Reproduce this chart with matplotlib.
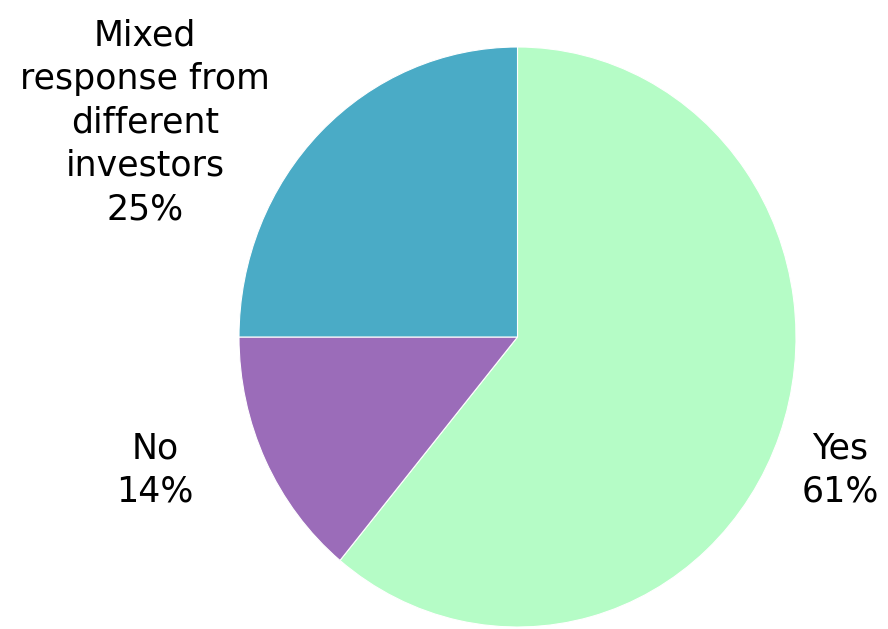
import matplotlib
matplotlib.use("Agg")
import matplotlib.pyplot as plt

categories = ["Yes", "No", "Mixed\nresponse from\ndifferent\ninvestors"]
values = [61, 14, 25]
colors = ["#b5fcc6", "#9b6cb9", "#4aabc6"]
label_pos = [(1.158, -0.459), (-1.302, -0.459), (-1.338, 0.741)]

fig = plt.figure(figsize=(8.88, 6.29), dpi=100)
ax = fig.add_axes([239/888, 2/629, 557/888, 580/629])

labels = [f"{c}\n{v}%" for c, v in zip(categories, values)]
wedges, texts = ax.pie(values, labels=labels, colors=colors, startangle=90,
                       counterclock=False,
                       wedgeprops=dict(edgecolor="white", linewidth=0.8))
for t, p in zip(texts, label_pos):
    t.set_position(p)
    t.set_ha("center")
    t.set_va("center")
    t.set_fontsize(25)
    t.set_linespacing(1.35)
    t.set_family("DejaVu Sans")
ax.set_aspect("auto")
ax.set_xlim(-1, 1)
ax.set_ylim(-1, 1)
ax.axis("off")
fig.savefig("out.png", dpi=100)
